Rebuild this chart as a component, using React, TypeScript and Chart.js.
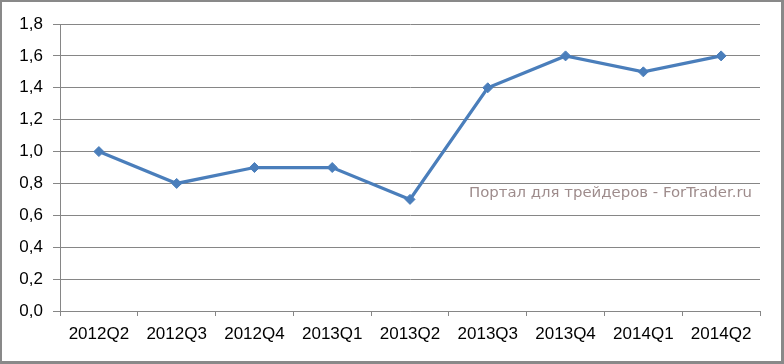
import React, { useEffect, useRef } from "react";
import { Chart, registerables } from "chart.js";

Chart.register(...registerables);

const categories = ["2012Q2", "2012Q3", "2012Q4", "2013Q1", "2013Q2", "2013Q3", "2013Q4", "2014Q1", "2014Q2"];
const values = [1.0, 0.8, 0.9, 0.9, 0.7, 1.4, 1.6, 1.5, 1.6];
const yMin = 0;
const yMax = 1.8;
const yStep = 0.2;
const watermark = "Портал для трейдеров - ForTrader.ru";

const FONT = "'Liberation Sans', Arial, sans-serif";

export default function App() {
  const ref = useRef<HTMLCanvasElement | null>(null);

  useEffect(() => {
    if (!ref.current) return;
    const chart = new Chart(ref.current, {
      type: "line",
      data: {
        labels: categories,
        datasets: [
          {
            data: values,
            borderColor: "#4a7ebb",
            backgroundColor: "#4a7ebb",
            borderWidth: 3.25,
            pointStyle: "rectRot",
            pointRadius: 5,
            pointHoverRadius: 5,
            pointBackgroundColor: "#4a7ebb",
            pointBorderColor: "#4a7ebb",
            pointBorderWidth: 1,
            tension: 0,
          },
        ],
      },
      options: {
        responsive: false,
        animation: false,
        devicePixelRatio: 1,
        layout: { padding: { left: 0, top: 24, right: 24, bottom: 0 } },
        plugins: { legend: { display: false }, tooltip: { enabled: false } },
        scales: {
          x: {
            type: "category",
            offset: true,
            grid: {
              offset: true,
              drawOnChartArea: false,
              drawTicks: true,
              tickLength: 5,
              color: "#868686",
              lineWidth: 1,
            },
            border: { display: true, color: "#868686", width: 1 },
            ticks: {
              color: "#000000",
              font: { family: FONT, size: 17 },
              padding: 8,
              maxRotation: 0,
              autoSkip: false,
            },
            afterFit: (s: any) => {
              s.height = 53;
            },
          },
          y: {
            min: yMin,
            max: yMax,
            grid: {
              color: "#868686",
              lineWidth: 1,
              drawTicks: true,
              tickLength: 7,
            },
            border: { display: true, color: "#868686", width: 1 },
            ticks: {
              stepSize: yStep,
              color: "#000000",
              font: { family: FONT, size: 17 },
              padding: 10,
              callback: (v: any) => Number(v).toFixed(1).replace(".", ","),
            },
            afterFit: (s: any) => {
              s.width = 60;
            },
          },
        },
      },
    });
    return () => chart.destroy();
  }, []);

  return (
    <div
      style={{
        position: "absolute",
        left: 0,
        top: 0,
        width: 784,
        height: 364,
        background: "#ffffff",
        overflow: "hidden",
      }}
    >
      <canvas ref={ref} width={784} height={364} style={{ position: "absolute", left: 0, top: 0, display: "block" }} />
      <div
        style={{
          position: "absolute",
          left: 469,
          top: 183,
          fontFamily: "'DejaVu Sans', Verdana, sans-serif",
          fontSize: 14.9,
          color: "#9e8c8c",
          whiteSpace: "nowrap",
          lineHeight: "18px",
        }}
      >
        {watermark}
      </div>
      <div
        style={{
          position: "absolute",
          left: 0,
          top: 0,
          width: 784,
          height: 364,
          boxSizing: "border-box",
          borderStyle: "solid",
          borderColor: "#898989",
          borderWidth: "2px 3px 3px 2px",
          pointerEvents: "none",
        }}
      />
    </div>
  );
}
